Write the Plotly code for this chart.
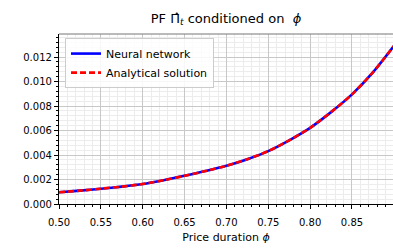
import plotly.graph_objects as go

phi = [0.500, 0.525, 0.550, 0.575, 0.600, 0.625, 0.650, 0.675, 0.700,
       0.725, 0.750, 0.775, 0.800, 0.825, 0.850, 0.875, 0.900]
neural = [0.000955, 0.00109, 0.00125, 0.00142, 0.00163, 0.00194, 0.00230, 0.00269, 0.00312,
          0.00366, 0.00432, 0.00520, 0.00622, 0.00750, 0.00895, 0.01075, 0.01290]
analytical = [0.000955, 0.00109, 0.00125, 0.00142, 0.00163, 0.00194, 0.00230, 0.00269, 0.00312,
              0.00366, 0.00432, 0.00520, 0.00622, 0.00750, 0.00895, 0.01075, 0.01290]
xticks = [0.50, 0.55, 0.60, 0.65, 0.70, 0.75, 0.80, 0.85]
yticks = [0.000, 0.002, 0.004, 0.006, 0.008, 0.010, 0.012]

W, H = 393, 248
font = "DejaVu Sans"
fig = go.Figure()
fig.add_trace(go.Scatter(x=phi, y=neural, mode="lines", name="Neural network",
                         line=dict(color="#0000ff", width=2.6, shape="spline", smoothing=0.8)))
fig.add_trace(go.Scatter(x=phi, y=analytical, mode="lines", name="Analytical solution",
                         line=dict(color="#ff0000", width=2.6, dash="6px,3px",
                                   shape="spline", smoothing=0.8)))

fig.update_layout(
    width=W, height=H,
    margin=dict(l=59, r=0, t=34, b=44),
    paper_bgcolor="white", plot_bgcolor="white",
    font=dict(family=font, color="black", size=10),
    title=dict(text="PF Π\u0302<sub><i>t</i></sub> conditioned on  <i>ϕ</i>",
               x=226 / W, xanchor="center", y=1 - 18 / H, yanchor="middle",
               font=dict(size=13, family=font)),
    showlegend=True,
    legend=dict(x=0.018, y=0.976, xanchor="left", yanchor="top",
                bgcolor="rgba(255,255,255,0.85)", bordercolor="#cccccc", borderwidth=1,
                font=dict(size=11, family=font), tracegroupgap=0,
                itemwidth=30),
)
fig.update_xaxes(
    range=[0.5, 0.899], tickvals=xticks, ticktext=[f"{v:.2f}" for v in xticks],
    ticks="outside", ticklen=4, tickwidth=1, tickcolor="black", automargin=False,
    ticklabelstandoff=5,
    showline=True, linecolor="black", linewidth=1.2, mirror=False,
    showgrid=True, gridcolor="#c8c8c8", gridwidth=1, zeroline=False,
    minor=dict(dtick=0.01, tick0=0.5, ticks="outside", ticklen=2, tickcolor="black",
               showgrid=True, gridcolor="#ececec", gridwidth=1),
    title=dict(text="Price duration <i>ϕ</i>", font=dict(size=11, family=font), standoff=6),
    tickfont=dict(size=10, family=font),
)
fig.update_yaxes(
    range=[0, 0.01388], tickvals=yticks, ticktext=[f"{v:.3f}" for v in yticks],
    ticks="outside", ticklen=4, tickwidth=1, tickcolor="black", automargin=False,
    showline=True, linecolor="black", linewidth=1.2, mirror=False,
    showgrid=True, gridcolor="#c8c8c8", gridwidth=1, zeroline=False,
    minor=dict(dtick=0.0004, tick0=0, ticks="outside", ticklen=2, tickcolor="black",
               showgrid=True, gridcolor="#ececec", gridwidth=1),
    tickfont=dict(size=10, family=font),
)
# top spine
fig.add_shape(type="line", xref="paper", yref="paper", x0=0, x1=1, y0=1, y1=1,
              line=dict(color="#777777", width=1.2))
fig.write_html("out.html", config={"displayModeBar": False},
               post_script="document.body.style.margin='0';document.body.style.overflow='hidden';")
